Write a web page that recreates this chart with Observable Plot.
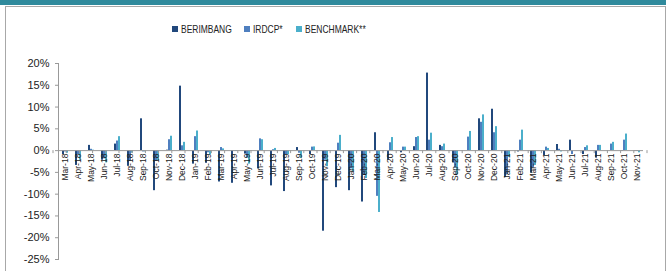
<!DOCTYPE html>
<html>
<head>
<meta charset="utf-8">
<script src="https://cdn.jsdelivr.net/npm/d3@7"></script>
<script src="https://cdn.jsdelivr.net/npm/@observablehq/plot@0.6"></script>
<style>
  html, body { margin: 0; padding: 0; background: #fff; }
  #wrap { position: relative; width: 666px; height: 271px; overflow: hidden; background: #fff; }
  #band { position: absolute; left: 0; top: 0; width: 666px; height: 5px; background: #2F8A9C; }
  #box { position: absolute; left: 5px; top: 6px; width: 659px; height: 280px; border: 1px solid #a8a8a8; }
  #legend { position: absolute; left: 172px; top: 23px; display: flex; align-items: center;
            font-family: "Liberation Sans", Arial, sans-serif; font-size: 11px; color: #222; white-space: nowrap; }
  #legend .item { display: flex; align-items: center; margin-right: 12.5px; }
  #legend .sw { width: 6px; height: 6px; margin-right: 3px; flex: none; }
  #legend .tx { display: inline-block; transform-origin: left center; }
  #chart { position: absolute; left: 0; top: 45px; }
  #chart svg text { fill: #222; }
</style>
</head>
<body>
<div id="wrap">
  <div id="band"></div>
  <div id="box"></div>
  <div id="legend"></div>
  <div id="chart"></div>
</div>
<script>
const months = ["Mar-18","Apr-18","May-18","Jun-18","Jul-18","Aug-18","Sep-18","Oct-18","Nov-18","Dec-18",
  "Jan-19","Feb-19","Mar-19","Apr-19","May-19","Jun-19","Jul-19","Aug-19","Sep-19","Oct-19","Nov-19","Dec-19",
  "Jan-20","Feb-20","Mar-20","Apr-20","May-20","Jun-20","Jul-20","Aug-20","Sep-20","Oct-20","Nov-20","Dec-20",
  "Jan-21","Feb-21","Mar-21","Apr-21","May-21","Jun-21","Jul-21","Aug-21","Sep-21","Oct-21","Nov-21"];

const series = ["BERIMBANG", "IRDCP*", "BENCHMARK**"];
const colors = ["#21487C", "#4F7FBF", "#4BAFCB"];

const berimbang = [-0.9,-3.4,1.2,-2.2,1.5,-3.6,7.3,-9.2,0.1,14.8,
  -3.1,-2.9,-7.2,-7.5,-0.8,-4.2,-8.1,-9.4,0.7,-0.9,-18.5,-8.5,
  -9.2,-11.8,4.1,-2.2,-0.5,0.9,17.8,1.2,-2.8,0,7.3,9.5,
  -6.2,-0.3,-5.2,-1.2,1.4,2.4,-0.9,-1.7,0,-0.1,-0.1];

const irdcp = [-0.3,-0.9,0.3,-1.9,2.2,-2.5,-0.3,-2.5,2.5,1.1,
  3.2,-0.5,0.7,-0.1,-1.7,2.7,0.2,-0.9,-0.6,0.8,-2.2,1.7,
  -4.2,-5.5,-10.5,1.8,0.8,3.0,2.4,0.9,-4.0,3.1,6.5,4.1,
  -5.5,2.4,-4.0,0.8,0.3,-0.9,0.7,1.2,1.5,2.4,-0.2];

const benchmark = [-0.6,-2.2,0.1,-2.8,3.2,-0.6,-0.3,-2.3,3.3,1.9,
  4.5,-1.0,0.4,-0.2,-3.1,2.5,0.5,-0.9,-1.8,0.85,-3.7,3.5,
  -4.8,-6.4,-14.2,3.0,0.8,3.2,4.0,1.5,-5.5,4.4,8.2,5.5,
  -1.6,4.7,-3.4,0.5,-0.3,0,1.1,1.2,1.9,3.8,-0.5];

const yTicks = [-25,-20,-15,-10,-5,0,5,10,15,20];

const values = [berimbang, irdcp, benchmark];
const rows = months.flatMap((m, i) => series.map((s, j) => ({month: m, series: s, value: values[j][i]})));

// legend (condensed text, like the original)
const legend = document.getElementById("legend");
series.forEach((s, j) => {
  const it = document.createElement("div");
  it.className = "item";
  it.innerHTML = `<span class="sw" style="background:${colors[j]}"></span><span class="tx">${s}</span>`;
  legend.appendChild(it);
});
const squeeze = 0.77;
legend.querySelectorAll(".tx").forEach(t => {
  const w = t.getBoundingClientRect().width;
  t.style.transform = `scaleX(${squeeze})`;
  t.style.marginRight = `${-w * (1 - squeeze)}px`;
});

const plot = Plot.plot({
  width: 666,
  height: 226,
  marginLeft: 53,
  marginRight: 19,
  marginTop: 18,
  marginBottom: 12,
  style: {fontFamily: "'Liberation Sans', Arial, sans-serif", fontSize: "11px", color: "#999", background: "transparent"},
  fx: {domain: months, padding: 0, axis: null, label: null},
  x: {domain: series, paddingInner: 0, paddingOuter: 0.75, axis: null},
  y: {domain: [-25, 20], ticks: yTicks, tickFormat: d => d + "%", tickSize: 3, tickPadding: 6, line: true, label: null},
  color: {domain: series, range: colors},
  marks: [
    Plot.barY(rows, {fx: "month", x: "series", y: "value", fill: "series"}),
    Plot.ruleY([0], {stroke: "#999"}),
    Plot.text(months, {fx: d => d, y: () => 0, text: d => d, rotate: -90, textAnchor: "end", dy: 3,
      fontSize: 8.5, fill: "#222"})
  ]
});

document.getElementById("chart").appendChild(plot);

// small category-boundary ticks on the zero line, from the plot's own scales
const fxs = plot.scale("fx");
const band = d3.scaleBand(fxs.domain, fxs.range)
  .paddingInner(fxs.paddingInner || 0).paddingOuter(fxs.paddingOuter || 0);
const y0 = plot.scale("y").apply(0);
const edges = months.map(m => band(m)).concat([band.range()[1]]);
const svg = d3.select(plot.tagName.toLowerCase() === "svg" ? plot : plot.querySelector("svg"));
svg.append("g").selectAll("line").data(edges).join("line")
  .attr("x1", d => d).attr("x2", d => d)
  .attr("y1", y0).attr("y2", y0 + 3)
  .attr("stroke", "#999");
</script>
</body>
</html>
